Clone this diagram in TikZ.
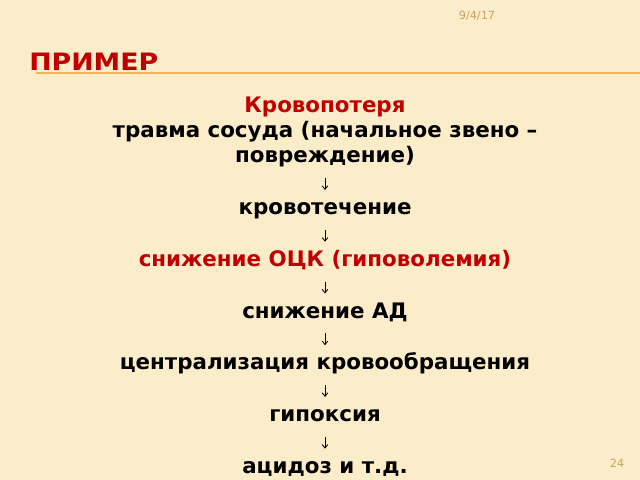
\documentclass[tikz,border=0pt]{standalone}
\usepackage{fontspec}
\setmainfont{DejaVu Sans}
\newfontfamily\headfont[FakeStretch=1.12]{DejaVu Sans}
\usetikzlibrary{positioning,arrows.meta}
\definecolor{slidebg}{RGB}{252,237,202}
\definecolor{darkred}{RGB}{192,0,0}
\definecolor{tan}{RGB}{204,160,96}
\definecolor{rulecol}{RGB}{236,180,96}
\tikzstyle{item} = [font=\bfseries\fontsize{15.2}{18}\selectfont,
                    text height=11pt,
                    text depth=4pt,
                    inner sep=0pt]
\tikzstyle{hot} = [text=darkred]
\tikzstyle{small} = [font=\fontsize{8}{9}\selectfont,
                     text=tan,
                     inner sep=0pt]
\tikzstyle{cascade} = [x=0.025cm,
                      y=-0.025cm,
                      node distance=21.4pt,
                      >={Straight Barb[length=2.5pt,width=4pt]}]
\tikzstyle{flow} = [->,
                   line width=0.6pt,
                   shorten <=6.7pt,
                   shorten >=6.3pt]

\begin{document}
\begin{tikzpicture}[cascade]
    \fill[slidebg] (0,0) rectangle (640,480);
    \useasboundingbox (0,0) rectangle (640,480);
    \node (date) at (477,16) [small] {9/4/17};
    \node (title) at (29,70) [anchor=base west, inner sep=0pt, text=darkred,
      font=\headfont\bfseries\fontsize{17}{20}\selectfont] {ПРИМЕР};
    \draw[rulecol, line width=1.3pt] (36,73) -- (640,73);
    \node (0) at (325,112.5) [item, hot, anchor=base] {Кровопотеря};
    \node (1) [below =2.5pt of 0] [item] {травма сосуда (начальное звено –};
    \node (2) [below =2.5pt of 1] [item] {повреждение)};
    \node (3) [below =of 2] [item] {кровотечение};
    \node (4) [below =of 3] [item, hot] {снижение ОЦК (гиповолемия)};
    \node (5) [below =of 4] [item] {снижение АД};
    \node (6) [below =of 5] [item] {централизация кровообращения};
    \node (7) [below =of 6] [item] {гипоксия};
    \node (8) [below =of 7] [item] {ацидоз и т.д.};
    \node (page) at (617,463) [small] {24};
    \path[flow]
      (2) edge (3)
      (3) edge (4)
      (4) edge (5)
      (5) edge (6)
      (6) edge (7)
      (7) edge (8);
  \end{tikzpicture}
\end{document}
